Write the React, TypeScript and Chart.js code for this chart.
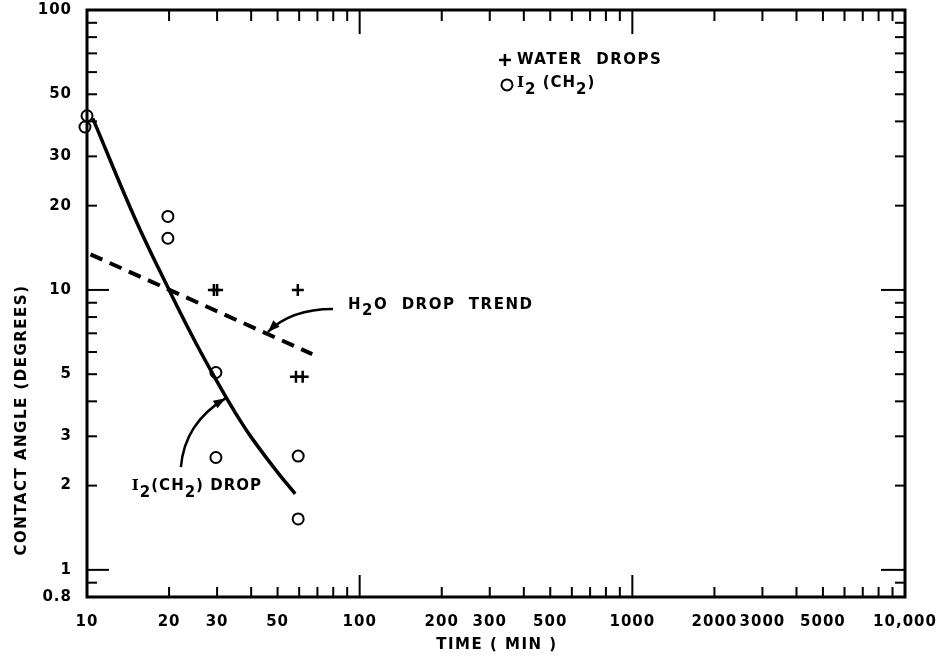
import React, { useEffect, useRef } from "react";
import { Chart, registerables } from "chart.js";

Chart.register(...registerables);

// ---- Data ----
const xTickValues = [10, 20, 30, 50, 100, 200, 300, 500, 1000, 2000, 3000, 5000, 10000];
const yTickValues = [0.8, 1, 2, 3, 5, 10, 20, 30, 50, 100];

// I2(CH2) drop fitted curve (solid)
const i2CurveX = [10.5, 15, 20, 25, 30, 35, 40, 50, 58];
const i2CurveY = [41, 18, 10, 6.5, 4.7, 3.64, 2.98, 2.23, 1.87];

// H2O drop trend (dashed)
const h2oTrendX = [10.3, 67];
const h2oTrendY = [13.4, 5.9];

// Water drops (+)
const waterX = [29.2, 30.0, 59.3, 58.4, 61.8];
const waterY = [10, 10, 10, 4.9, 4.9];

// I2(CH2) drops (o)
const i2X = [9.83, 10.0, 19.8, 19.8, 29.7, 29.7, 59.5, 59.5];
const i2Y = [38.2, 41.9, 18.3, 15.3, 5.07, 2.52, 2.55, 1.52];

const FONT = "'DejaVu Sans', sans-serif";
const SERIF = "'DejaVu Serif', serif";

type Part = { t: string; sub?: boolean; serif?: boolean };

function drawRich(ctx: CanvasRenderingContext2D, parts: Part[], x: number, y: number, size: number) {
  let cx = x;
  ctx.textBaseline = "middle";
  ctx.textAlign = "left";
  for (const p of parts) {
    const fam = p.serif ? SERIF : FONT;
    ctx.font = `bold ${size}px ${fam}`;
    ctx.fillText(p.t, cx, p.sub ? y + size * 0.45 : y);
    cx += ctx.measureText(p.t).width;
  }
}

function arrow(ctx: CanvasRenderingContext2D, p0: number[], c: number[], p2: number[]) {
  ctx.beginPath();
  ctx.moveTo(p0[0], p0[1]);
  ctx.quadraticCurveTo(c[0], c[1], p2[0], p2[1]);
  ctx.lineWidth = 2.5;
  ctx.stroke();
  const ang = Math.atan2(p2[1] - c[1], p2[0] - c[0]);
  const L = 12, W = 4.5;
  ctx.beginPath();
  ctx.moveTo(p2[0], p2[1]);
  ctx.lineTo(p2[0] - L * Math.cos(ang) + W * Math.sin(ang), p2[1] - L * Math.sin(ang) - W * Math.cos(ang));
  ctx.lineTo(p2[0] - L * Math.cos(ang) - W * Math.sin(ang), p2[1] - L * Math.sin(ang) + W * Math.cos(ang));
  ctx.closePath();
  ctx.fill();
}

const decorPlugin = {
  id: "decor",
  beforeDraw(chart: any) {
    (chart.ctx as any).letterSpacing = "1px";
  },
  afterDraw(chart: any) {
    const { ctx, chartArea, scales } = chart;
    const { left, right, top, bottom } = chartArea;
    const xs = scales.x, ys = scales.y;
    const px = (v: number) => xs.getPixelForValue(v);
    const py = (v: number) => ys.getPixelForValue(v);
    ctx.save();
    ctx.strokeStyle = "#000";
    ctx.fillStyle = "#000";
    ctx.lineCap = "butt";

    // tick marks (inward, all four sides)
    ctx.lineWidth = 2;
    const xMinor: number[] = [], xMajor = [100, 1000];
    for (const d of [10, 100, 1000]) for (let m = 2; m <= 9; m++) xMinor.push(d * m);
    const yMinor: number[] = [0.9], yMajor = [1, 10];
    for (const d of [1, 10]) for (let m = 2; m <= 9; m++) yMinor.push(d * m);
    const seg = (x1: number, y1: number, x2: number, y2: number) => {
      ctx.beginPath(); ctx.moveTo(x1, y1); ctx.lineTo(x2, y2); ctx.stroke();
    };
    for (const v of xMinor) { const x = px(v); seg(x, top, x, top + 11); seg(x, bottom, x, bottom - 10); }
    for (const v of xMajor) { const x = px(v); seg(x, top, x, top + 24); seg(x, bottom, x, bottom - 22); }
    for (const v of yMinor) { const y = py(v); seg(left, y, left + 10, y); seg(right, y, right - 10, y); }
    for (const v of yMajor) { const y = py(v); seg(left, y, left + 22, y); seg(right, y, right - 24, y); }

    // frame
    ctx.lineWidth = 3;
    ctx.strokeRect(left, top, right - left, bottom - top);

    // legend
    const lx = px(341), ly = py(66.3);
    ctx.lineWidth = 2.5;
    seg(lx - 6, ly, lx + 6, ly); seg(lx, ly - 6, lx, ly + 6);
    const cx2 = px(347), cy2 = py(54);
    ctx.lineWidth = 2;
    ctx.beginPath(); ctx.arc(cx2, cy2, 5.5, 0, Math.PI * 2); ctx.stroke();
    (ctx as any).letterSpacing = "1.5px";
    ctx.font = `bold 15px ${FONT}`;
    ctx.textBaseline = "middle";
    ctx.textAlign = "left";
    ctx.fillText("WATER  DROPS", lx + 12, ly);
    (ctx as any).letterSpacing = "1px";
    drawRich(ctx, [{ t: "I", serif: true }, { t: "2", sub: true }, { t: " (CH" }, { t: "2", sub: true }, { t: ")" }], cx2 + 10, cy2 - 2, 15);

    // annotations
    (ctx as any).letterSpacing = "1.5px";
    drawRich(ctx, [{ t: "H" }, { t: "2", sub: true }, { t: "O  DROP  TREND" }], px(90.6), py(8.63) - 3, 15);
    (ctx as any).letterSpacing = "1px";
    drawRich(ctx, [{ t: "I", serif: true }, { t: "2", sub: true }, { t: "(CH" }, { t: "2", sub: true }, { t: ") DROP" }], px(14.6), py(1.93) - 4, 15);
    (ctx as any).letterSpacing = "0px";
    arrow(ctx, [px(79.8), py(8.55)], [px(56), py(8.55)], [px(46.1), py(7.08)]);
    arrow(ctx, [px(22.1), py(2.33)], [px(22.8), py(3.35)], [px(32.2), py(4.1)]);

    // axis titles
    (ctx as any).letterSpacing = "1.5px";
    ctx.font = `bold 15px ${FONT}`;
    ctx.textAlign = "center";
    ctx.textBaseline = "middle";
    ctx.fillText("TIME ( MIN )", (left + right) / 2 + 1, 645);
    ctx.save();
    ctx.translate(22, 420);
    ctx.rotate(-Math.PI / 2);
    ctx.fillText("CONTACT ANGLE (DEGREES)", 0, 0);
    ctx.restore();
    (ctx as any).letterSpacing = "0px";

    ctx.restore();
  },
};

export default function App() {
  const ref = useRef<HTMLCanvasElement | null>(null);
  useEffect(() => {
    if (!ref.current) return;
    const tickFont = { family: FONT, weight: "bold" as const, size: 15 };
    const chart = new Chart(ref.current, {
      type: "scatter",
      data: {
        datasets: [
          {
            label: "I2(CH2) DROP",
            data: i2CurveX.map((x, i) => ({ x, y: i2CurveY[i] })),
            showLine: true,
            borderColor: "#000",
            borderWidth: 3.5,
            pointRadius: 0,
            tension: 0.4,
            fill: false,
            clip: false,
          } as any,
          {
            label: "H2O DROP TREND",
            data: h2oTrendX.map((x, i) => ({ x, y: h2oTrendY[i] })),
            showLine: true,
            borderColor: "#000",
            borderWidth: 4,
            borderDash: [13, 8],
            pointRadius: 0,
            fill: false,
            clip: false,
          } as any,
          {
            label: "WATER DROPS",
            data: waterX.map((x, i) => ({ x, y: waterY[i] })),
            pointStyle: "cross",
            pointRadius: 6,
            borderWidth: 2.5,
            borderColor: "#000",
            backgroundColor: "#000",
            clip: false,
          } as any,
          {
            label: "I2(CH2)",
            data: i2X.map((x, i) => ({ x, y: i2Y[i] })),
            pointStyle: "circle",
            pointRadius: 5.5,
            borderWidth: 2,
            borderColor: "#000",
            backgroundColor: "rgba(0,0,0,0)",
            clip: false,
          } as any,
        ],
      },
      options: {
        animation: false,
        responsive: false,
        events: [],
        layout: { padding: { left: 0, top: 10, right: 39, bottom: 0 } },
        plugins: { legend: { display: false }, tooltip: { enabled: false } },
        scales: {
          x: {
            type: "logarithmic",
            min: 10,
            max: 10000,
            afterBuildTicks: (s: any) => { s.ticks = xTickValues.map((v) => ({ value: v })); },
            afterFit: (s: any) => { s.height = 60; },
            grid: { display: false },
            border: { display: false },
            ticks: {
              autoSkip: false,
              maxRotation: 0,
              padding: 8,
              color: "#000",
              font: tickFont,
              callback: (v: any) => (Number(v) === 10000 ? "10,000" : String(v)),
            },
          },
          y: {
            type: "logarithmic",
            min: 0.8,
            max: 100,
            afterBuildTicks: (s: any) => { s.ticks = yTickValues.map((v) => ({ value: v })); },
            afterFit: (s: any) => { s.width = 87; s.paddingTop = 0; s.paddingBottom = 0; },
            grid: { display: false },
            border: { display: false },
            ticks: {
              autoSkip: false,
              padding: 7,
              color: "#000",
              font: tickFont,
              callback: (v: any) => String(v),
            },
          },
        },
      },
      plugins: [decorPlugin],
    } as any);
    return () => chart.destroy();
  }, []);
  return (
    <div style={{ position: "absolute", left: 0, top: 0, width: 944, height: 657, background: "#fff" }}>
      <canvas ref={ref} width={944} height={657} style={{ width: 944, height: 657, display: "block" }} />
    </div>
  );
}
